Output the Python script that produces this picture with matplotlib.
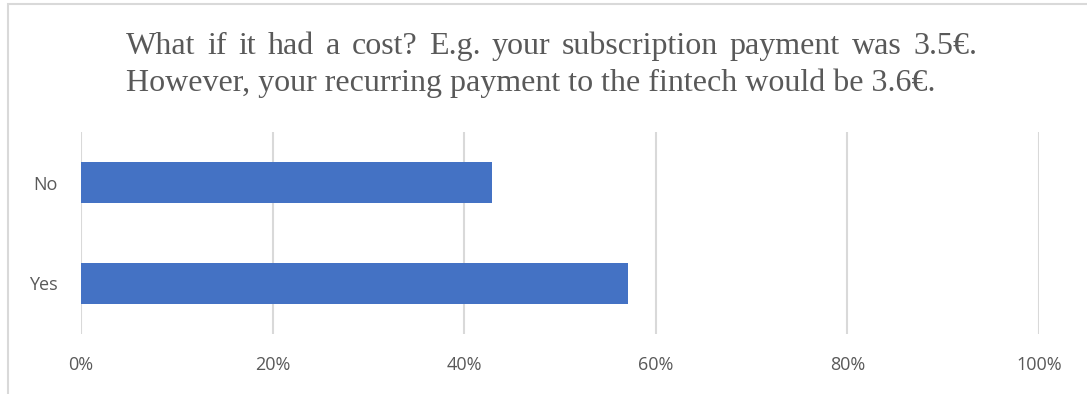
import matplotlib
matplotlib.use("Agg")
import matplotlib.pyplot as plt
from matplotlib.patches import Rectangle
from matplotlib.ticker import PercentFormatter

# Survey answers
answers = ["Yes", "No"]
shares = [4 / 7, 3 / 7]
ticks = [0, 0.2, 0.4, 0.6, 0.8, 1.0]

title_lines = ["What if it had a cost? E.g. your subscription payment was 3.5\u20ac.",
               "However, your recurring payment to the fintech would be 3.6\u20ac."]

W, H = 1087, 394
fig = plt.figure(figsize=(W / 100, H / 100), dpi=100)

# light frame around the chart (cut off on the right and bottom)
fig.patches.append(Rectangle((8 / W, -0.1), 1.2, (H - 4) / H + 0.1,
                             transform=fig.transFigure, fill=False,
                             edgecolor="#D9D9D9", linewidth=1.5))

ax = fig.add_axes([81 / W, (H - 334) / H, (1039 - 81) / W, (334 - 132) / H])
ax.barh(answers, shares, height=0.4, color="#4472C4", zorder=3)
ax.set_xlim(0, 1)
ax.set_ylim(-0.5, 1.5)
ax.set_xticks(ticks)
ax.xaxis.set_major_formatter(PercentFormatter(1.0, decimals=0))
ax.grid(axis="x", color="#D9D9D9", linewidth=1.5, zorder=0)
for s in ax.spines.values():
    s.set_visible(False)
ax.tick_params(length=0, labelsize=13, labelcolor="#595959")
ax.tick_params(axis="x", pad=16)
ax.tick_params(axis="y", pad=17)
for lab in ax.get_xticklabels() + ax.get_yticklabels():
    lab.set_fontfamily("Open Sans")

# title block, first line justified to a fixed width
renderer = fig.canvas.get_renderer()
x0, x1 = 126, 977
tkw = dict(fontsize=23, color="#595959", family="Liberation Serif",
           va="baseline", ha="left")

words = title_lines[0].split(" ")
objs = [fig.text(0, 1 - 54 / H, w, **tkw) for w in words]
widths = [o.get_window_extent(renderer).width for o in objs]
gap = (x1 - x0 - sum(widths)) / (len(words) - 1)
x = x0
for o, wd in zip(objs, widths):
    o.set_x(x / W)
    x += wd + gap

fig.text(x0 / W, 1 - 91 / H, title_lines[1], **tkw)

fig.savefig("out.png", dpi=100)
